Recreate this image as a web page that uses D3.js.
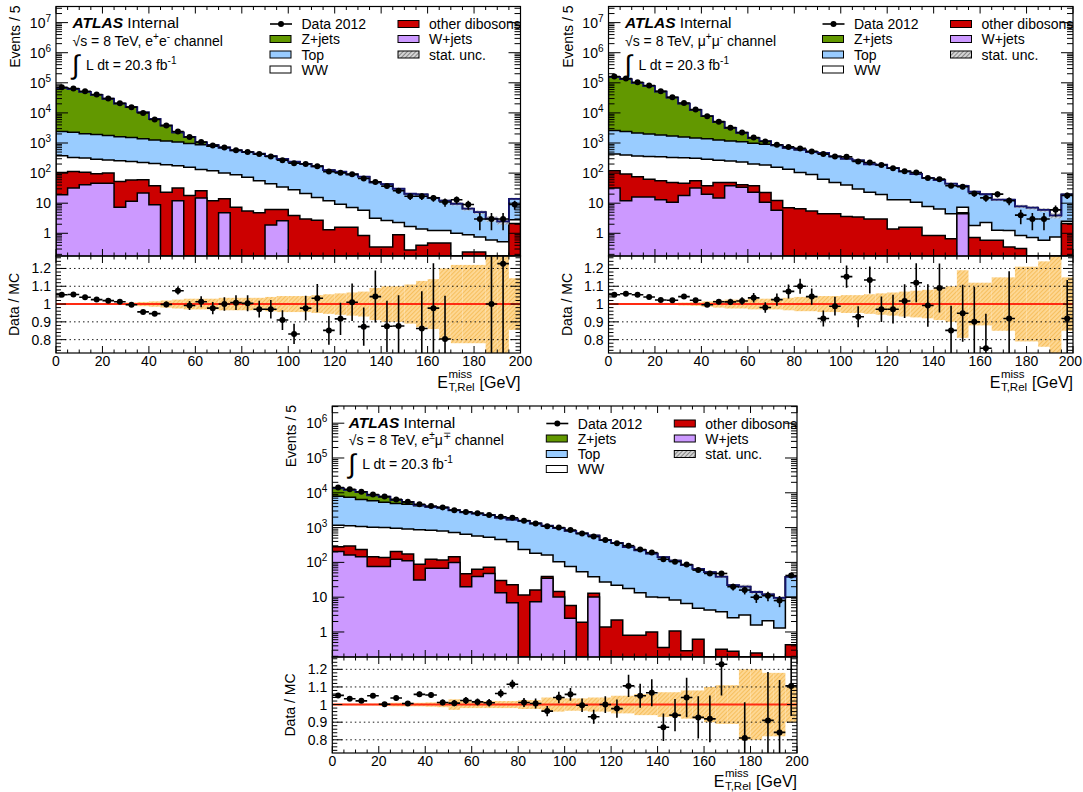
<!DOCTYPE html>
<html>
<head>
<meta charset="utf-8">
<title>ETmiss Rel distributions</title>
<script src="https://cdn.jsdelivr.net/npm/d3@7/dist/d3.min.js"></script>
<style>
html,body{margin:0;padding:0;background:#fff;}
svg{display:block;}
svg text{font-family:"Liberation Sans",Arial,Helvetica,sans-serif;fill:#000;}
</style>
</head>
<body>
<svg id="chart" width="1083" height="792" xmlns="http://www.w3.org/2000/svg"></svg>
<script>
// ---------------- data ----------------
const binEdges = [0,5,10,15,20,25,30,35,40,45,50,55,60,65,70,75,80,85,90,95,100,105,110,115,120,125,130,135,140,145,150,155,160,165,170,175,180,185,190,195,200];
const xTickValues = [0,20,40,60,80,100,120,140,160,180,200];
const ratioTickValues = [0.8,0.9,1,1.1,1.2];
const processKeys = ["wjets","diboson","ww","top","zjets"]; // stacking order, bottom -> top

// e+e- channel
const eeData = [70800,64600,52500,40700,30200,20900,15500,10000,6030,3800, 2400,1585,1070,832,708,575,501,427,355,269, 214,200,170,112,102,91,66,51,37,26, 17,17,15,11,13,9,3,3,3,9];
const eeZjets = [65200,59400,48100,37900,27700,18800,14000,9100,5070,2625, 1170,645,180,75,16,5,3,2,2,2, 2,1,1,1,0.5,0.5,0.3,0.3,0.3,0.2, 0.2,0.2,0.1,0.1,0.1,0.1,0.1,0.05,0.05,0.1];
const eeTop = [2020,1960,1720,1620,1500,1360,1265,1156,1050,985, 896,800,738,656,592,478,423,382,319,259, 210,182,150,112,102,83,70,46,40,27.7, 18.7,18.1,13.8,10.8,8.5,5.6,4.2,2.4,1.9,11];
const eeWW = [275,219,209,193,175,205,185,164,171,167, 142,137,106,108,86,80,67,51,38,28, 24,18,12.8,10.7,7.7,5.6,5.0,2.8,2.3,1.4, 1.4,1.0,0.75,0.75,1.0,0.66,0.52,0.6,0.52,0.7];
const eeDiboson = [86,80,66,49,54,45,48,38,29,23, 20,18,11,12,9.2,7.4,5.5,4.8,4.3,3.6, 3.9,3.0,2.7,1.3,1.6,1.6,0.85,0.35,0.35,0.9, 0.28,0.4,0.48,0.48,0,0.24,0.24,0,0,2.1];
const eeWjets = [19,32,41,46,46,7.4,11.5,22,8.9,0, 12,0,15,0,4.8,0,0,0,1.9,2.6, 0,0,0,0,0,0,0,0,0,0, 0,0,0,0,0,0,0,0,0,0];
const eeRatio = [1.052,1.054,1.038,1.025,1.019,1.013,0.996,0.956,0.946,0.998, 1.075,0.992,1.013,0.977,1.0,1.008,1.004,0.971,0.971,0.910, 0.832,0.977,1.033,0.852,0.917,1.01,0.873,1.042,0.875,0.877, null,0.863,0.977,0.804,null,null,null,1.0,1.227,null];
const eeUnc = [0.005,0.005,0.005,0.005,0.005,0.005,0.008,0.012,0.015,0.02, 0.025,0.03,0.03,0.03,0.035,0.035,0.035,0.035,0.04,0.045, 0.045,0.045,0.05,0.055,0.06,0.065,0.07,0.09,0.1,0.1, 0.11,0.13,0.14,0.2,0.22,0.22,0.22,0.6,0.6,0.145];

// mu+mu- channel
const mmData = [162200,138000,104700,81300,52500,33100,21400,12900,7760,5130, 3240,2240,1510,1120,871,741,661,525,427,355, 347,245,224,186,145,115,105,69,63,38, 35,21,15,20,12,4,3,3,6,18];
const mmZjets = [152000,129400,97900,75600,49400,30700,18800,11100,6380,3750, 1985,1090,483,238,19,5,3,2,2,2, 1.5,1,1,1,0.5,0.5,0.3,0.3,0.3,0.2, 0.2,0.2,0.1,0.1,0.1,0.1,0.1,0.05,0.05,0.1];
const mmTop = [2200,2000,1770,1645,1513,1370,1260,1170,1090,990, 924,866,777,726,677,552,495,410,403,308, 260,232,173,170,134,100,82,61.7,51.3,40, 30,22,17.4,11.7,11.7,6.9,6.3,5.4,3.1,16.9];
const mmWW = [307,305,296,292,291,282,278,253,250,220, 202,193,162,163,143,128,98,84,58,44, 37,26,20,16.5,11.5,11.3,9.1,6.9,5.6,3.8, 2.6,1.1,1.7,0.67,0.9,0.54,0.72,0.59,0.76,0.4];
const mmDiboson = [88,81,60,47,43,38,28,24,18,34, 11,7,15,12,6.5,7.1,6.5,5.5,4.5,4.5, 3.6,3.5,3.0,3.0,1.4,1.6,1.6,0.85,0.85,0.66, 0.3,0.72,0.59,0.59,0.35,0.31,0,0,0,2.1];
const mmWjets = [32,12,16,16,13,10.7,18,32,20,15, 38,34,23,10.7,5.8,0,0,0,0,0, 0,0,0,0,0,0,0,0,0,0, 4.5,0,0,0,0,0,0,0,0,0];
const mmRatio = [1.052,1.058,1.052,1.04,1.023,1.021,1.042,1.021,0.996,1.013, 1.012,1.017,1.035,0.981,1.025,1.071,1.10,1.042,0.919,0.988, 1.154,0.929,1.135,0.971,0.971,1.017,1.12,0.992,1.09,0.852, 0.948,0.90,0.752,null,0.919,null,null,null,null,0.919];
const mmUnc = [0.005,0.005,0.005,0.005,0.005,0.005,0.008,0.01,0.015,0.02, 0.025,0.025,0.03,0.03,0.03,0.035,0.04,0.04,0.045,0.045, 0.05,0.05,0.055,0.06,0.065,0.07,0.075,0.08,0.09,0.1, 0.19,0.12,0.12,0.15,0.15,0.21,0.21,0.24,0.6,0.15];

// e+-mu-+ channel
const emData = [14130,12590,10720,8910,7760,6460,5500,4680,4170,3800, 3160,2820,2570,2290,2040,1905,1585,1318,1096,1000, 851,676,550,437,355,302,234,191,123,105, 87,60,48,48,20,16,10,11,8,42];
const emZjets = [5490,4780,4030,2600,2380,1327,785,154,33,13, 8,5,3,3,2,2,2,2,2,1.5, 1,1,1,0.5,0.5,0.5,0.3,0.3,0.3,0.2, 0.2,0.2,0.1,0.1,0.1,0.1,0.1,0.05,0.05,0.1];
const emTop = [6765,6290,5385,4867,4370,3945,3765,3395,3090,2950, 2405,2105,1954,1740,1462,1318,1330,1126,974,856, 727,624,551,409,340,255,209,169,131,104, 77,60,48,35,19.4,17,12.4,9.9,8.2,28];
const emWW = [893,827,838,878,862,751,738,782,709,677, 579,598,512,453,427,366,222,166,123,90, 70,52,26,26,20,17,12.7,9.2,9.4,7.2, 6.3,4.2,4.3,3.5,2.3,3.1,1.35,2.1,1.3,9.6];
const emDiboson = [78,133,89,69,62,81,62,58,55,49, 45,27,24,24,16.5,16,11.5,8.8,4,4.3, 3.3,1.9,2.7,1.4,2.2,0.81,0.81,1.0,0.36,1.07, 0.29,0.62,0,0.32,0.28,0,0.25,0,0,0.43];
const emWjets = [204,162,145,76,76,123,112,31,68,68, 100,20,39,48,13.5,6.9,0,7.4,35,10.2, 2.5,0,10.2,0,0,0,0,0,0,0, 0,0,0,0,0,0,0,0,0,0];
const emRatio = [1.052,1.033,1.021,1.05,1.002,1.037,1.006,1.058,1.054,1.012, 1.008,1.023,1.015,1.01,1.063,1.115,1.012,1.006,0.963,1.04, 1.058,0.996,0.931,1.0,0.977,1.106,1.05,1.067,0.871,0.94, 1.04,0.927,0.919,1.229,null,0.81,null,0.91,0.842,1.106];
const emUnc = [0.005,0.005,0.005,0.005,0.008,0.01,0.01,0.01,0.012,0.015, 0.03,0.02,0.02,0.02,0.02,0.02,0.025,0.025,0.04,0.04, 0.035,0.035,0.04,0.04,0.05,0.05,0.06,0.06,0.07,0.07, 0.08,0.08,0.1,0.11,0.11,0.2,0.2,0.18,0.18,0.1];

const legendCol1 = [["Data 2012","data"],["Z+jets","zjets"],["Top","top"],["WW","ww"]];
const legendCol2 = [["other dibosons","diboson"],["W+jets","wjets"],["stat. unc.","stat"]];

// ---------------- styles ----------------
const processColors = {zjets:"#629800", top:"#99ccff", ww:"#ffffff", diboson:"#cc0000", wjets:"#cc99ff"};
const ratioDomain = [0.725, 1.27];

const panels = [
  {id:"ee", x0:56, x1:520.5, mTop:6.5, mBot:256, rBot:353, yMin:0.176, yMax:3.43e7, lab:13, tit:32.5,
   data:eeData, procs:{zjets:eeZjets, top:eeTop, ww:eeWW, diboson:eeDiboson, wjets:eeWjets},
   ratio:eeRatio, unc:eeUnc, chan:[["e",0],["+",1],["e",0],["-",1]]},
  {id:"mm", x0:608.5, x1:1073, mTop:6.5, mBot:256, rBot:353, yMin:0.176, yMax:3.43e7, lab:13, tit:32.5,
   data:mmData, procs:{zjets:mmZjets, top:mmTop, ww:mmWW, diboson:mmDiboson, wjets:mmWjets},
   ratio:mmRatio, unc:mmUnc, chan:[["\u03bc",0],["+",1],["\u03bc",0],["-",1]]},
  {id:"em", x0:332.3, x1:797, mTop:406, mBot:657, rBot:753, yMin:0.191, yMax:3.12e6, lab:12.5, tit:31.5,
   data:emData, procs:{zjets:emZjets, top:emTop, ww:emWW, diboson:emDiboson, wjets:emWjets},
   ratio:emRatio, unc:emUnc, chan:[["e",0],["\u00b1",1],["\u03bc",0],["\u2213",1]]}
];

const svg = d3.select("#chart");
svg.append("rect").attr("width",1083).attr("height",792).attr("fill","#fff");
const defs = svg.append("defs");
function hatch(id,bg,line,size,w){
  const p = defs.append("pattern").attr("id",id).attr("patternUnits","userSpaceOnUse")
    .attr("width",size).attr("height",size).attr("patternTransform","rotate(45)");
  p.append("rect").attr("width",size).attr("height",size).attr("fill",bg);
  p.append("line").attr("x1",0.5).attr("y1",0).attr("x2",0.5).attr("y2",size).attr("stroke",line).attr("stroke-width",w);
}
hatch("statHatch","#d4d4d4","#858585",3,1);
hatch("ratioHatch","#fed894","#f6bf5e",3,1.1);

function supText(sel, parts){
  let lastSup = false;
  parts.forEach(([t,isSup])=>{
    if(isSup) sel.append("tspan").attr("dy", lastSup ? 0 : -6).attr("font-size","0.72em").text(t);
    else sel.append("tspan").attr("dy", lastSup ? 6 : 0).text(t);
    lastSup = !!isSup;
  });
}

function drawPanel(p){
  const nb = binEdges.length-1;
  const g = svg.append("g");
  const x = d3.scaleLinear().domain([binEdges[0], binEdges[nb]]).range([p.x0,p.x1]);
  const y = d3.scaleLog().domain([p.yMin,p.yMax]).range([p.mBot,p.mTop]).clamp(true);
  const r = d3.scaleLinear().domain(ratioDomain).range([p.rBot,p.mBot]).clamp(true);
  const safe = v => Math.max(v, p.yMin*0.3);

  const rows = binEdges.slice(0,nb).map((lo,i)=>{
    const o = {lo:lo, hi:binEdges[i+1]};
    processKeys.forEach(k=>o[k]=p.procs[k][i]);
    return o;
  });
  const stack = d3.stack().keys(processKeys)(rows);
  const total = stack[stack.length-1].map(s=>s[1]);
  const stepPts = vals => { const pts = vals.map((v,i)=>({x:binEdges[i],v:v})); pts.push({x:binEdges[nb],v:vals[nb-1]}); return pts; };

  defs.append("clipPath").attr("id","cm-"+p.id).append("rect")
    .attr("x",p.x0).attr("y",p.mTop).attr("width",p.x1-p.x0).attr("height",p.mBot-p.mTop);
  defs.append("clipPath").attr("id","cr-"+p.id).append("rect")
    .attr("x",p.x0).attr("y",p.mBot).attr("width",p.x1-p.x0).attr("height",p.rBot-p.mBot);

  // ---------- main panel ----------
  const main = g.append("g").attr("clip-path",`url(#cm-${p.id})`);
  const area = d3.area().curve(d3.curveStepAfter).x(d=>x(d.x)).y0(p.mBot+3).y1(d=>y(safe(d.v)));
  for(let k=processKeys.length-1;k>=0;k--){
    const key = processKeys[k];
    main.append("path").attr("d",area(stepPts(stack[k].map(s=>s[1]))))
      .attr("fill",processColors[key]).attr("stroke","#000").attr("stroke-width",1.5);
  }
  // stat. unc. band (MC statistical part only, smaller than the ratio band)
  const uncPts = total.map((t,i)=>{ const u = Math.min(p.unc[i]*0.6,0.2); return {x:binEdges[i],lo:t*(1-u),hi:t*(1+u)}; });
  uncPts.push({x:binEdges[nb],lo:uncPts[nb-1].lo,hi:uncPts[nb-1].hi});
  main.append("path").attr("d",d3.area().curve(d3.curveStepAfter).x(d=>x(d.x)).y0(d=>y(safe(d.lo))).y1(d=>y(safe(d.hi)))(uncPts))
    .attr("fill","url(#statHatch)").attr("opacity",0.75);
  main.append("path").attr("d",d3.line().curve(d3.curveStepAfter).x(d=>x(d.x)).y(d=>y(safe(d.v)))(stepPts(total)))
    .attr("fill","none").attr("stroke","#14146e").attr("stroke-width",1.8);
  const dg = main.append("g").attr("stroke","#000").attr("stroke-width",1.6);
  p.data.forEach((n,i)=>{
    if(!(n>0)) return;
    const cx = x((binEdges[i]+binEdges[i+1])/2), s = Math.sqrt(n);
    dg.append("line").attr("x1",cx).attr("x2",cx).attr("y1",y(safe(n-s))).attr("y2",y(n+s));
    dg.append("line").attr("x1",x(binEdges[i])).attr("x2",x(binEdges[i+1])).attr("y1",y(n)).attr("y2",y(n));
    dg.append("circle").attr("cx",cx).attr("cy",y(n)).attr("r",3).attr("fill","#000").attr("stroke","none");
  });

  // ---------- ratio panel ----------
  const rat = g.append("g").attr("clip-path",`url(#cr-${p.id})`);
  p.unc.forEach((u,i)=>{
    rat.append("rect").attr("x",x(binEdges[i])).attr("width",x(binEdges[i+1])-x(binEdges[i]))
      .attr("y",r(1+u)).attr("height",Math.max(0.6,r(1-u)-r(1+u))).attr("fill","url(#ratioHatch)");
  });
  ratioTickValues.filter(v=>v!==1).forEach(v=>{
    rat.append("line").attr("x1",p.x0).attr("x2",p.x1).attr("y1",r(v)).attr("y2",r(v))
      .attr("stroke","#000").attr("stroke-width",0.9).attr("stroke-dasharray","1.5,3");
  });
  rat.append("line").attr("x1",p.x0).attr("x2",p.x1).attr("y1",r(1)).attr("y2",r(1))
    .attr("stroke","#ff2a12").attr("stroke-width",2);
  const rg = rat.append("g").attr("stroke","#000").attr("stroke-width",1.6);
  p.ratio.forEach((v,i)=>{
    if(v===null) return;
    const n = p.data[i], e = v/Math.sqrt(n);
    const cx = x((binEdges[i]+binEdges[i+1])/2);
    rg.append("line").attr("x1",cx).attr("x2",cx).attr("y1",r(v-e)).attr("y2",r(v+e));
    rg.append("line").attr("x1",x(binEdges[i])).attr("x2",x(binEdges[i+1])).attr("y1",r(v)).attr("y2",r(v));
    rg.append("circle").attr("cx",cx).attr("cy",r(v)).attr("r",3).attr("fill","#000").attr("stroke","none");
  });

  // ---------- legend ----------
  const rowOff = [17.5,32.5,48,63];
  const lg = g.append("g").attr("font-size",14);
  legendCol1.forEach(([lab,key],j)=>{
    const yy = p.mTop+rowOff[j];
    if(key==="data"){
      lg.append("line").attr("x1",p.x0+214).attr("x2",p.x0+236).attr("y1",yy).attr("y2",yy).attr("stroke","#000").attr("stroke-width",1.6);
      lg.append("circle").attr("cx",p.x0+225).attr("cy",yy).attr("r",3);
    } else {
      lg.append("rect").attr("x",p.x0+214).attr("y",yy-3.5).attr("width",21).attr("height",7)
        .attr("fill",processColors[key]).attr("stroke","#000").attr("stroke-width",1);
    }
    lg.append("text").attr("x",p.x0+245.5).attr("y",yy+5).text(lab);
  });
  legendCol2.forEach(([lab,key],j)=>{
    const yy = p.mTop+rowOff[j];
    lg.append("rect").attr("x",p.x0+342).attr("y",yy-3.5).attr("width",21).attr("height",7)
      .attr("fill",key==="stat"?"url(#statHatch)":processColors[key]).attr("stroke","#000").attr("stroke-width",1);
    lg.append("text").attr("x",p.x0+373).attr("y",yy+5).text(lab);
  });

  // ---------- ATLAS label ----------
  const t1 = g.append("text").attr("x",p.x0+16.5).attr("y",p.mTop+21.5).attr("font-size",15.5);
  t1.append("tspan").attr("font-weight","bold").attr("font-style","italic").text("ATLAS");
  t1.append("tspan").text(" Internal");
  const t2 = g.append("text").attr("x",p.x0+16.5).attr("y",p.mTop+39).attr("font-size",14);
  supText(t2, [["\u221as = 8 TeV, ",0]].concat(p.chan).concat([[" channel",0]]));
  g.append("text").attr("x",p.x0+16).attr("y",p.mTop+67).attr("font-size",27)
    .attr("font-family","DejaVu Sans").attr("font-weight","200").text("\u222b");
  const t3 = g.append("text").attr("x",p.x0+30).attr("y",p.mTop+63).attr("font-size",14);
  supText(t3, [["L dt = 20.3 fb",0],["-1",1]]);

  // ---------- frames and ticks ----------
  const ax = g.append("g").attr("stroke","#000").attr("stroke-width",1);
  ax.append("rect").attr("x",p.x0).attr("y",p.mTop).attr("width",p.x1-p.x0).attr("height",p.mBot-p.mTop).attr("fill","none").attr("stroke-width",1.2);
  ax.append("rect").attr("x",p.x0).attr("y",p.mBot).attr("width",p.x1-p.x0).attr("height",p.rBot-p.mBot).attr("fill","none").attr("stroke-width",1.2);
  const isMajX = t => xTickValues.some(v=>Math.abs(v-t)<1e-9);
  x.ticks(40).forEach(t=>{
    const L = isMajX(t)?7:3.5, xx = x(t);
    [[p.mTop,1],[p.mBot,-1],[p.mBot,1],[p.rBot,-1]].forEach(([yy,d])=>{
      ax.append("line").attr("x1",xx).attr("x2",xx).attr("y1",yy).attr("y2",yy+d*L);
    });
  });
  y.ticks().forEach(t=>{
    const lg10 = Math.log10(t), maj = Math.abs(lg10-Math.round(lg10))<1e-9;
    const L = maj?12:6, yy = y(t);
    if(yy<p.mTop-0.1||yy>p.mBot+0.1) return;
    ax.append("line").attr("x1",p.x0).attr("x2",p.x0+L).attr("y1",yy).attr("y2",yy);
    ax.append("line").attr("x1",p.x1).attr("x2",p.x1-L).attr("y1",yy).attr("y2",yy);
    if(maj){
      const e = Math.round(lg10);
      const lt = g.append("text").attr("x",p.x0-5).attr("y",yy+5).attr("text-anchor","end").attr("font-size",14);
      if(e===0) lt.text("1"); else if(e===1) lt.text("10");
      else { lt.append("tspan").text("10"); lt.append("tspan").attr("dy",-6).attr("font-size",10).text(e); }
    }
  });
  const isMajR = t => ratioTickValues.some(v=>Math.abs(v-t)<1e-9);
  r.ticks(30).forEach(t=>{
    const L = isMajR(t)?10:5, yy = r(t);
    ax.append("line").attr("x1",p.x0).attr("x2",p.x0+L).attr("y1",yy).attr("y2",yy);
    ax.append("line").attr("x1",p.x1).attr("x2",p.x1-L).attr("y1",yy).attr("y2",yy);
  });
  ratioTickValues.forEach(v=>{
    g.append("text").attr("x",p.x0-5).attr("y",r(v)+5).attr("text-anchor","end").attr("font-size",14).text(d3.format("~g")(v));
  });
  xTickValues.forEach(v=>{
    const tx = g.append("text").attr("y",p.rBot+p.lab).attr("text-anchor","middle").attr("font-size",14).text(v);
    const w = tx.node().getComputedTextLength();
    tx.attr("x", Math.min(x(v), 1082 - w/2));
  });

  // ---------- axis titles ----------
  g.append("text").attr("transform",`translate(${p.x0-36},${p.mTop-1}) rotate(-90)`).attr("text-anchor","end").attr("font-size",14).text("Events / 5");
  g.append("text").attr("transform",`translate(${p.x0-37},${(p.mBot+p.rBot)/2}) rotate(-90)`).attr("text-anchor","middle").attr("font-size",14).text("Data / MC");
  const yb = p.rBot+p.tit+2;
  const gev = g.append("text").attr("x",p.x1).attr("y",yb).attr("text-anchor","end").attr("font-size",16).text("[GeV]");
  const wg = gev.node().getComputedTextLength();
  const sub = g.append("text").attr("y",yb+3.5).attr("font-size",11.5).text("T,Rel");
  const sup = g.append("text").attr("y",yb-9.5).attr("font-size",11.5).text("miss");
  const ws = Math.max(sub.node().getComputedTextLength(), sup.node().getComputedTextLength());
  const sx = p.x1 - wg - 5 - ws;
  sub.attr("x",sx); sup.attr("x",sx);
  g.append("text").attr("x",sx-0.5).attr("y",yb).attr("text-anchor","end").attr("font-size",16).text("E");
}

panels.forEach(drawPanel);
</script>
</body>
</html>
